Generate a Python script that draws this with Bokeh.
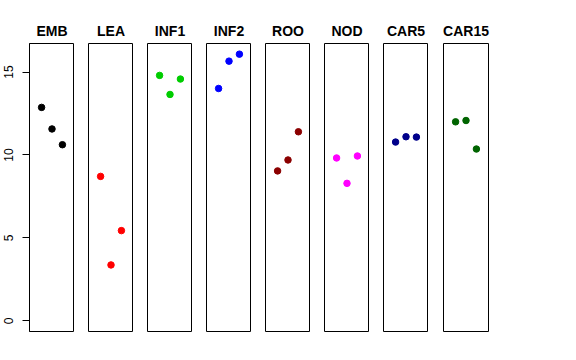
from bokeh.plotting import figure
from bokeh.layouts import row
from bokeh.models import FixedTicker, Range1d
from bokeh.embed import file_html
from bokeh.resources import INLINE

groups = ["EMB", "LEA", "INF1", "INF2", "ROO", "NOD", "CAR5", "CAR15"]
colors = ["#000000", "#FF0000", "#00CD00", "#0000FF", "#8B0000", "#FF00FF", "#00008B", "#006400"]
reps = [1, 2, 3]
emb = [12.87, 11.57, 10.62]
lea = [8.71, 3.37, 5.44]
inf1 = [14.80, 13.65, 14.58]
inf2 = [14.01, 15.66, 16.08]
roo = [9.04, 9.70, 11.40]
nod = [9.82, 8.29, 9.94]
car5 = [10.78, 11.10, 11.08]
car15 = [12.00, 12.08, 10.36]
values = [emb, lea, inf1, inf2, roo, nod, car5, car15]
y_ticks = [0, 5, 10, 15]

ymax = max(max(v) for v in values)
ypad = 0.04 * ymax
xpad = 0.04 * 4

left_borders = [29, 14, 14, 14, 14, 14, 14, 15]
figs = []
for i, (g, c, v) in enumerate(zip(groups, colors, values)):
    p = figure(frame_width=45, frame_height=288,
               x_range=Range1d(0 - xpad, 4 + xpad),
               y_range=Range1d(0 - ypad, ymax + ypad),
               x_axis_type=None, y_axis_type="linear" if i == 0 else None,
               output_backend="svg", toolbar_location=None,
               min_border_left=left_borders[i], min_border_right=0 if i < 7 else 60,
               min_border_top=43, min_border_bottom=21,
               title=g)
    p.title.align = "center"
    p.title.text_font = "Liberation Sans"
    p.title.text_font_size = "14px"
    p.title.text_font_style = "bold"
    p.title.text_color = "black"
    p.title.standoff = 10
    p.outline_line_color = "black"
    p.outline_line_width = 1
    p.xgrid.visible = False
    p.ygrid.visible = False
    p.background_fill_color = "white"
    p.border_fill_color = "white"
    if i == 0:
        ax = p.yaxis[0]
        ax.ticker = FixedTicker(ticks=y_ticks)
        ax.major_tick_out = 7
        ax.major_tick_in = 0
        ax.minor_tick_line_color = None
        ax.axis_line_color = "black"
        ax.major_tick_line_color = "black"
        ax.major_label_orientation = "vertical"
        ax.major_label_text_font = "Liberation Sans"
        ax.major_label_text_font_size = "12px"
        ax.major_label_text_color = "black"
        ax.major_label_standoff = 9
    p.scatter(reps, v, size=6.5, color=c, line_color=c)
    figs.append(p)

layout = row(*figs, spacing=0)
open("out.html", "w").write(file_html(layout, INLINE))
